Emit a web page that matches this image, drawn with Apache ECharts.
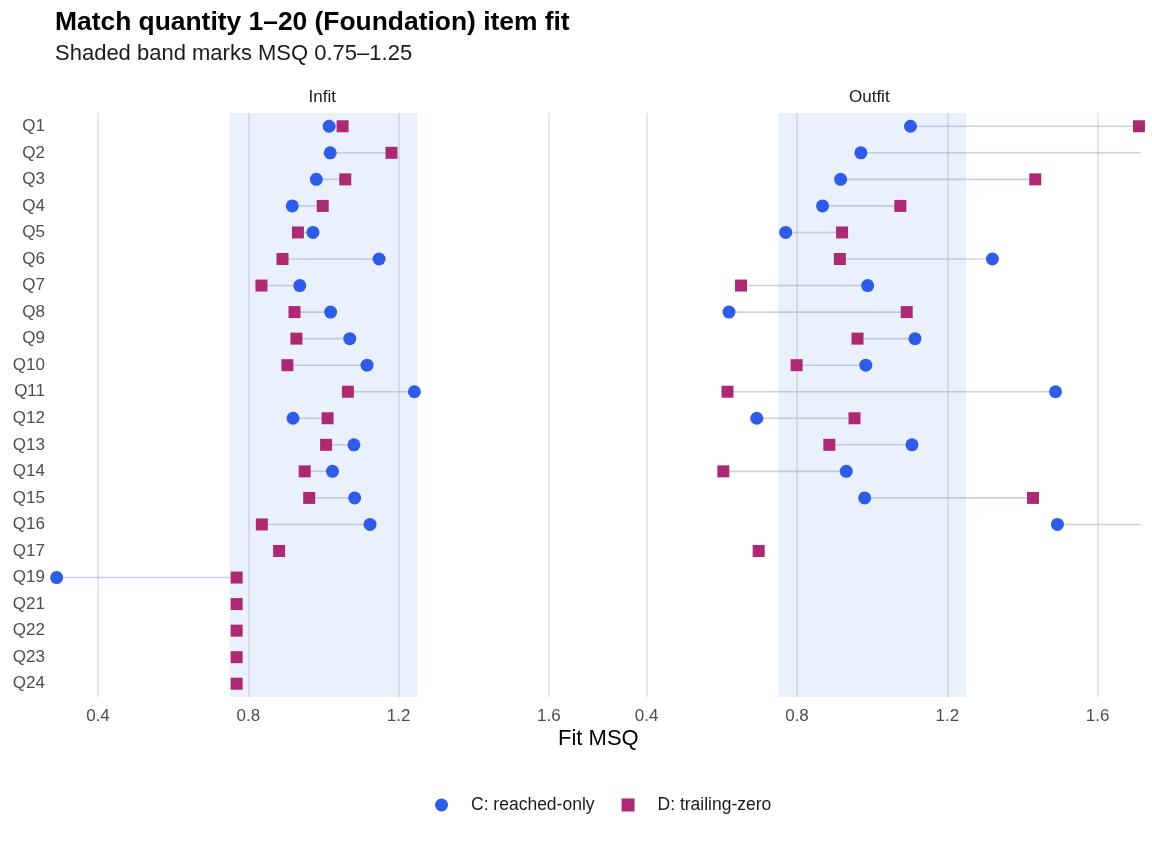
<!DOCTYPE html>
<html>
<head>
<meta charset="utf-8">
<script src="https://cdn.jsdelivr.net/npm/echarts@6/dist/echarts.min.js"></script>
<style>
  html, body { margin: 0; padding: 0; background: #fff; }
  #chart { width: 1152px; height: 844px; }
</style>
</head>
<body>
<div id="chart"></div>
<script>
// item order, top to bottom
const items = ['Q1', 'Q2', 'Q3', 'Q4', 'Q5', 'Q6', 'Q7', 'Q8', 'Q9', 'Q10', 'Q11',
  'Q12', 'Q13', 'Q14', 'Q15', 'Q16', 'Q17', 'Q19', 'Q21', 'Q22', 'Q23', 'Q24']

// C: reached-only / D: trailing-zero
const infitC = [1.015, 1.018, 0.981, 0.917, 0.972, 1.148, 0.937, 1.019, 1.070, 1.116, 1.242,
  0.919, 1.081, 1.024, 1.083, 1.124, null, 0.29, null, null, null, null]
const infitD = [1.051, 1.181, 1.058, 0.998, 0.932, 0.891, 0.835, 0.923, 0.928, 0.904, 1.065,
  1.011, 1.007, 0.950, 0.962, 0.836, 0.882, 0.769, 0.769, 0.769, 0.769, 0.769]
const outfitC = [1.102, 0.970, 0.916, 0.868, 0.770, 1.320, 0.988, 0.619, 1.114, 0.983, 1.488,
  0.693, 1.106, 0.931, 0.980, 1.493, null, null, null, null, null, null]
const outfitD = [1.71, 1.95, 1.434, 1.075, 0.920, 0.914, 0.651, 1.092, 0.961, 0.799, 0.615,
  0.953, 0.886, 0.604, 1.428, 1.88, 0.698, null, null, null, null, null]

const xTicks = [0.4, 0.8, 1.2, 1.6]
const band = [0.75, 1.25]
const xMin = 0.2856
const xMax = 1.7146

const seriesNames = ['C: reached-only', 'D: trailing-zero']
const panels = ['Infit', 'Outfit']

const BLUE = '#2E5BE8'
const MAGENTA = '#AD2974'
const FONT = 'Liberation Sans, Arial, Helvetica, sans-serif'

const points = vals => vals.map((v, i) => (v == null ? null : [v, items[i]])).filter(d => d)
const pairs = (a, b) => a.map((v, i) => (v == null || b[i] == null ? null : [v, b[i], items[i]])).filter(d => d)

const chart = echarts.init(document.getElementById('chart'))

const grids = [
  { left: 55, top: 113, width: 537, height: 584 },
  { left: 603.7, top: 113, width: 537, height: 584 }
]

function xAxisFor(idx) {
  return {
    type: 'value',
    gridIndex: idx,
    min: xMin,
    max: xMax,
    axisLine: { show: false },
    axisTick: { show: false },
    splitLine: { show: false },
    axisLabel: {
      customValues: xTicks,
      formatter: v => v.toFixed(1),
      color: '#4D4D4D',
      fontSize: 17,
      fontFamily: FONT,
      margin: 11
    }
  }
}

function yAxisFor(idx) {
  return {
    type: 'category',
    gridIndex: idx,
    data: items,
    inverse: true,
    axisLine: { show: false },
    axisTick: { show: false },
    splitLine: { show: false },
    axisLabel: {
      show: idx === 0,
      color: '#4D4D4D',
      fontSize: 17,
      fontFamily: FONT,
      margin: 10
    }
  }
}

// connector between C and D for one item, kept inside the panel
function segRender(params, api) {
  const cs = params.coordSys
  const y = api.coord([api.value(0), api.value(2)])[1]
  const clampX = x => Math.max(cs.x, Math.min(cs.x + cs.width, x))
  const x1 = clampX(api.coord([api.value(0), api.value(2)])[0])
  const x2 = clampX(api.coord([api.value(1), api.value(2)])[0])
  return {
    type: 'line',
    shape: { x1: x1, y1: y, x2: x2, y2: y },
    style: { stroke: 'rgba(140,155,185,0.45)', lineWidth: 1.6 }
  }
}

function panelSeries(idx, cVals, dVals) {
  return [
    {
      type: 'scatter',
      xAxisIndex: idx,
      yAxisIndex: idx,
      data: [],
      silent: true,
      z: 1,
      markArea: {
        silent: true,
        z: 1,
        itemStyle: { color: '#EBF1FC' },
        data: [[{ xAxis: band[0] }, { xAxis: band[1] }]]
      }
    },
    {
      type: 'scatter',
      xAxisIndex: idx,
      yAxisIndex: idx,
      data: [],
      silent: true,
      z: 2,
      markLine: {
        silent: true,
        z: 2,
        symbol: 'none',
        label: { show: false },
        lineStyle: { type: 'solid', color: 'rgba(0,0,0,0.09)', width: 2 },
        emphasis: { disabled: true },
        data: xTicks.map(t => ({ xAxis: t }))
      }
    },
    {
      type: 'custom',
      xAxisIndex: idx,
      yAxisIndex: idx,
      silent: true,
      z: 3,
      renderItem: segRender,
      encode: { x: [0, 1], y: 2 },
      data: pairs(cVals, dVals)
    },
    {
      name: seriesNames[0],
      type: 'scatter',
      xAxisIndex: idx,
      yAxisIndex: idx,
      symbol: 'circle',
      symbolSize: 13,
      itemStyle: { color: BLUE, opacity: 1 },
      z: 4,
      data: points(cVals)
    },
    {
      name: seriesNames[1],
      type: 'scatter',
      xAxisIndex: idx,
      yAxisIndex: idx,
      symbol: 'rect',
      symbolSize: 12,
      itemStyle: { color: MAGENTA, opacity: 1 },
      z: 5,
      data: points(dVals)
    }
  ]
}

const option = {
  backgroundColor: '#ffffff',
  animation: false,
  textStyle: { fontFamily: FONT },
  title: [
    {
      text: 'Match quantity 1–20 (Foundation) item fit',
      left: 55,
      top: 10,
      padding: 0,
      textStyle: { fontSize: 26.4, fontWeight: 'bold', color: '#000', fontFamily: FONT }
    },
    {
      text: 'Shaded band marks MSQ 0.75–1.25',
      left: 55,
      top: 43,
      padding: 0,
      textStyle: { fontSize: 22, fontWeight: 'normal', color: '#1a1a1a', fontFamily: FONT }
    }
  ],
  graphic: [
    {
      type: 'text',
      left: 323.5 - 15,
      top: 89,
      style: { text: panels[0], fill: '#1a1a1a', font: '17px ' + FONT }
    },
    {
      type: 'text',
      left: 872 - 23,
      top: 89,
      style: { text: panels[1], fill: '#1a1a1a', font: '17px ' + FONT }
    },
    {
      type: 'text',
      left: 558,
      top: 728,
      style: { text: 'Fit MSQ', fill: '#000', font: '22px ' + FONT }
    }
  ],
  legend: {
    data: seriesNames,
    left: 435,
    top: 796,
    padding: 0,
    itemWidth: 13,
    itemHeight: 13,
    itemGap: 27,
    selectedMode: false,
    formatter: name => '{g|}' + name,
    textStyle: {
      fontSize: 17.5,
      color: '#1a1a1a',
      fontFamily: FONT,
      rich: { g: { width: 18 } }
    }
  },
  grid: grids,
  xAxis: [xAxisFor(0), xAxisFor(1)],
  yAxis: [yAxisFor(0), yAxisFor(1)],
  series: [
    ...panelSeries(0, infitC, infitD),
    ...panelSeries(1, outfitC, outfitD)
  ]
}

chart.setOption(option)
</script>
</body>
</html>
